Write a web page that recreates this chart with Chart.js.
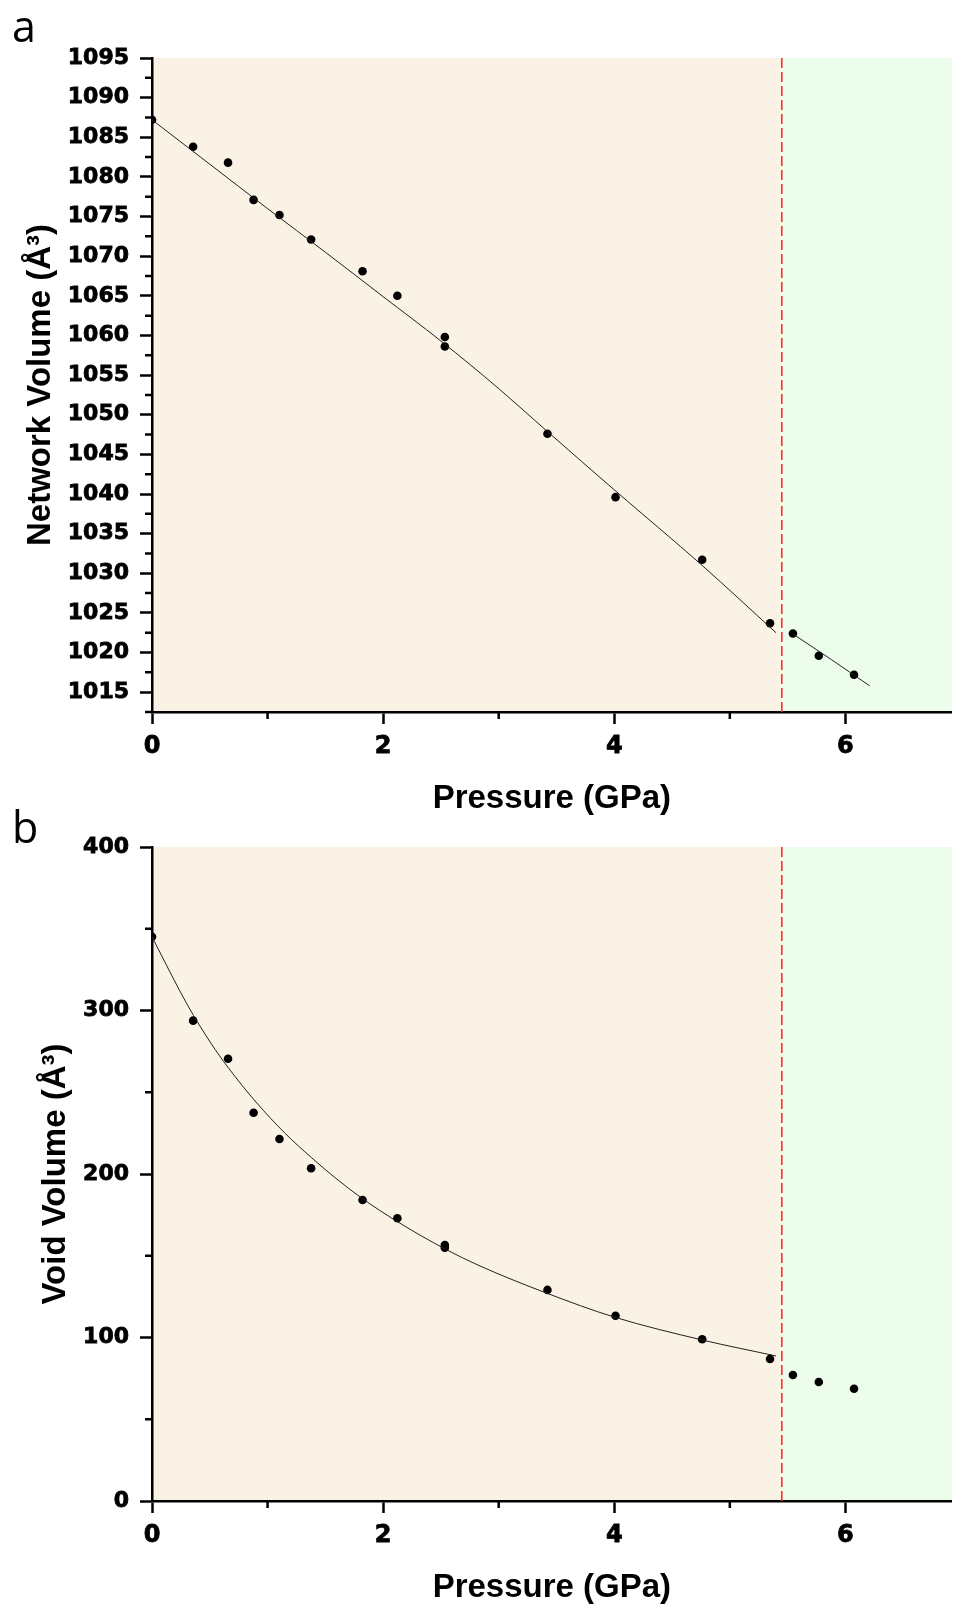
<!DOCTYPE html>
<html>
<head>
<meta charset="utf-8">
<script src="https://cdn.jsdelivr.net/npm/chart.js@4.4.1/dist/chart.umd.min.js"></script>
<style>
  body { margin: 0; background: #fff; width: 956px; height: 1605px; overflow: hidden; position: relative; }
  canvas { position: absolute; left: 0; }
  #chartA { top: 0; }
  #chartB { top: 819px; }
  .panel { position: absolute; left: 12px; font-family: "Open Sans", sans-serif; font-size: 43px; line-height: 43px; color: #000; }
</style>
</head>
<body>
<canvas id="chartA" width="956" height="819"></canvas>
<canvas id="chartB" width="956" height="791"></canvas>
<div class="panel" style="top:4px">a</div>
<div class="panel" style="top:805px">b</div>
<script>
// measured points (pressure in GPa)
const pressure = [0, 0.356, 0.658, 0.879, 1.103, 1.377, 1.822, 2.123, 2.534, 2.534, 3.422, 4.011, 4.761, 5.348, 5.546, 5.77, 6.075];
const networkVolume = [1087.2, 1083.8, 1081.8, 1077.1, 1075.2, 1072.1, 1068.1, 1065.0, 1059.8, 1058.6, 1047.6, 1039.6, 1031.7, 1023.7, 1022.4, 1019.6, 1017.2];
const voidVolume = [345.1, 293.8, 270.5, 237.5, 221.4, 203.5, 184.1, 172.9, 156.6, 154.9, 129.1, 113.3, 98.9, 86.9, 77.1, 72.8, 68.7];

// fitted curves
const networkFitP = [0, 0.5, 1, 1.5, 2, 2.5, 3.0, 3.42, 4.01, 4.76, 5.4];
const networkFitV = [1087.2, 1081.6, 1076.0, 1070.5, 1064.9, 1059.3, 1053.3, 1047.9, 1040.4, 1031.0, 1022.5];
const networkFit2P = [5.55, 5.88, 6.21];
const networkFit2V = [1022.3, 1019.1, 1015.8];
const voidFitP = [0, 0.31, 0.51, 0.66, 0.9, 1.15, 1.38, 1.58, 1.82, 2.12, 2.54, 2.83, 3.42, 4.0, 4.76, 5.4];
const voidFitV = [345, 303, 280, 265, 244, 225, 210, 198, 185, 171, 154, 144, 127, 112.5, 98.5, 88.7];

const phaseBoundary = 5.45;

// axis ticks
const xTicks = [0, 2, 4, 6];
const xMinor = [1, 3, 5];
const yTicksA = [1015, 1020, 1025, 1030, 1035, 1040, 1045, 1050, 1055, 1060, 1065, 1070, 1075, 1080, 1085, 1090, 1095];
const yMinorA = [1012.5, 1017.5, 1022.5, 1027.5, 1032.5, 1037.5, 1042.5, 1047.5, 1052.5, 1057.5, 1062.5, 1067.5, 1072.5, 1077.5, 1082.5, 1087.5, 1092.5];
const yTicksB = [0, 100, 200, 300, 400];
const yMinorB = [50, 150, 250, 350];

const toXY = (xs, ys) => xs.map((x, i) => ({x: x, y: ys[i]}));

// shaded regions + short minor ticks
const panelDecor = {
    id: 'panelDecor',
    beforeDraw(chart, args, opts) {
        const {ctx, chartArea: a, scales: {x}} = chart;
        const xb = x.getPixelForValue(opts.boundary);
        ctx.save();
        ctx.fillStyle = '#FAF2E4';
        ctx.fillRect(a.left, a.top, xb - a.left, a.bottom - a.top);
        ctx.fillStyle = '#ECFDEC';
        ctx.fillRect(xb, a.top, a.right - xb, a.bottom - a.top);
        ctx.restore();
    },
    afterDraw(chart, args, opts) {
        const {ctx, chartArea: a, scales: {x, y}} = chart;
        ctx.save();
        ctx.strokeStyle = '#000';
        ctx.lineWidth = 2.5;
        ctx.beginPath();
        opts.xMinor.forEach(v => {
            const px = x.getPixelForValue(v);
            ctx.moveTo(px, a.bottom);
            ctx.lineTo(px, a.bottom + 7);
        });
        opts.yMinor.forEach(v => {
            const py = y.getPixelForValue(v);
            ctx.moveTo(a.left, py);
            ctx.lineTo(a.left - 7, py);
        });
        ctx.stroke();
        ctx.restore();
    }
};

const tickFont = size => ({family: 'DejaVu Sans', weight: 'bold', size: size});
const titleFont = {family: 'Liberation Sans', weight: 'bold', size: 33};

function makePanel(id, opt) {
    const ctx = document.getElementById(id).getContext('2d');
    return new Chart(ctx, {
        type: 'scatter',
        data: {
            datasets: [
                {
                    data: [{x: phaseBoundary, y: opt.yMax}, {x: phaseBoundary, y: opt.yMin}],
                    showLine: true,
                    borderColor: '#FF3030',
                    borderWidth: 1.6,
                    borderDash: [10, 4],
                    pointRadius: 0
                },
                ...opt.fits.map(f => ({
                    data: f,
                    showLine: true,
                    borderColor: '#222',
                    borderWidth: 1,
                    cubicInterpolationMode: 'monotone',
                    pointRadius: 0
                })),
                {
                    data: opt.points,
                    showLine: false,
                    pointRadius: 4.3,
                    pointBackgroundColor: '#000',
                    pointBorderWidth: 0
                }
            ]
        },
        options: {
            responsive: false,
            animation: false,
            devicePixelRatio: 1,
            layout: {padding: {top: opt.top, left: 0, right: 0, bottom: 0}},
            plugins: {
                legend: {display: false},
                tooltip: {enabled: false},
                panelDecor: {boundary: phaseBoundary, xMinor: xMinor, yMinor: opt.yMinor}
            },
            scales: {
                x: {
                    type: 'linear',
                    min: 0,
                    max: 6.92,
                    afterBuildTicks: s => { s.ticks = xTicks.map(v => ({value: v})); },
                    afterFit: s => { s.height = opt.xHeight; },
                    ticks: {font: tickFont(24), color: '#000', padding: 8, maxRotation: 0, autoSkip: false,
                            textStrokeColor: '#000', textStrokeWidth: 0.8,
                            callback: v => String(v)},
                    grid: {drawOnChartArea: false, tickLength: 12, tickWidth: 2.5, tickColor: '#000'},
                    border: {color: '#000', width: 2.5},
                    title: {display: true, text: 'Pressure (GPa)', font: titleFont, color: '#000',
                            padding: {top: 0, bottom: opt.xTitlePad}}
                },
                y: {
                    type: 'linear',
                    min: opt.yMin,
                    max: opt.yMax,
                    afterBuildTicks: s => { s.ticks = opt.yTicks.map(v => ({value: v})); },
                    afterFit: s => { s.width = 152; },
                    ticks: {font: tickFont(22), color: '#000', padding: 11, autoSkip: false,
                            textStrokeColor: '#000', textStrokeWidth: 0.8,
                            callback: v => String(v)},
                    grid: {drawOnChartArea: false, tickLength: 12, tickWidth: 2.5, tickColor: '#000'},
                    border: {color: '#000', width: 2.5},
                    title: {display: true, text: opt.yTitle, font: titleFont, color: '#000',
                            padding: {top: opt.yTitlePad, bottom: 0}}
                }
            }
        },
        plugins: [panelDecor]
    });
}

makePanel('chartA', {
    top: 58, xHeight: 107, xTitlePad: 0, yTitlePad: 21,
    yMin: 1012.5, yMax: 1095, yTicks: yTicksA, yMinor: yMinorA,
    yTitle: 'Network Volume (Å³)',
    points: toXY(pressure, networkVolume),
    fits: [toXY(networkFitP, networkFitV), toXY(networkFit2P, networkFit2V)]
});

makePanel('chartB', {
    top: 28, xHeight: 109, xTitlePad: 2, yTitlePad: 36,
    yMin: 0, yMax: 400, yTicks: yTicksB, yMinor: yMinorB,
    yTitle: 'Void Volume (Å³)',
    points: toXY(pressure, voidVolume),
    fits: [toXY(voidFitP, voidFitV)]
});
</script>
</body>
</html>
